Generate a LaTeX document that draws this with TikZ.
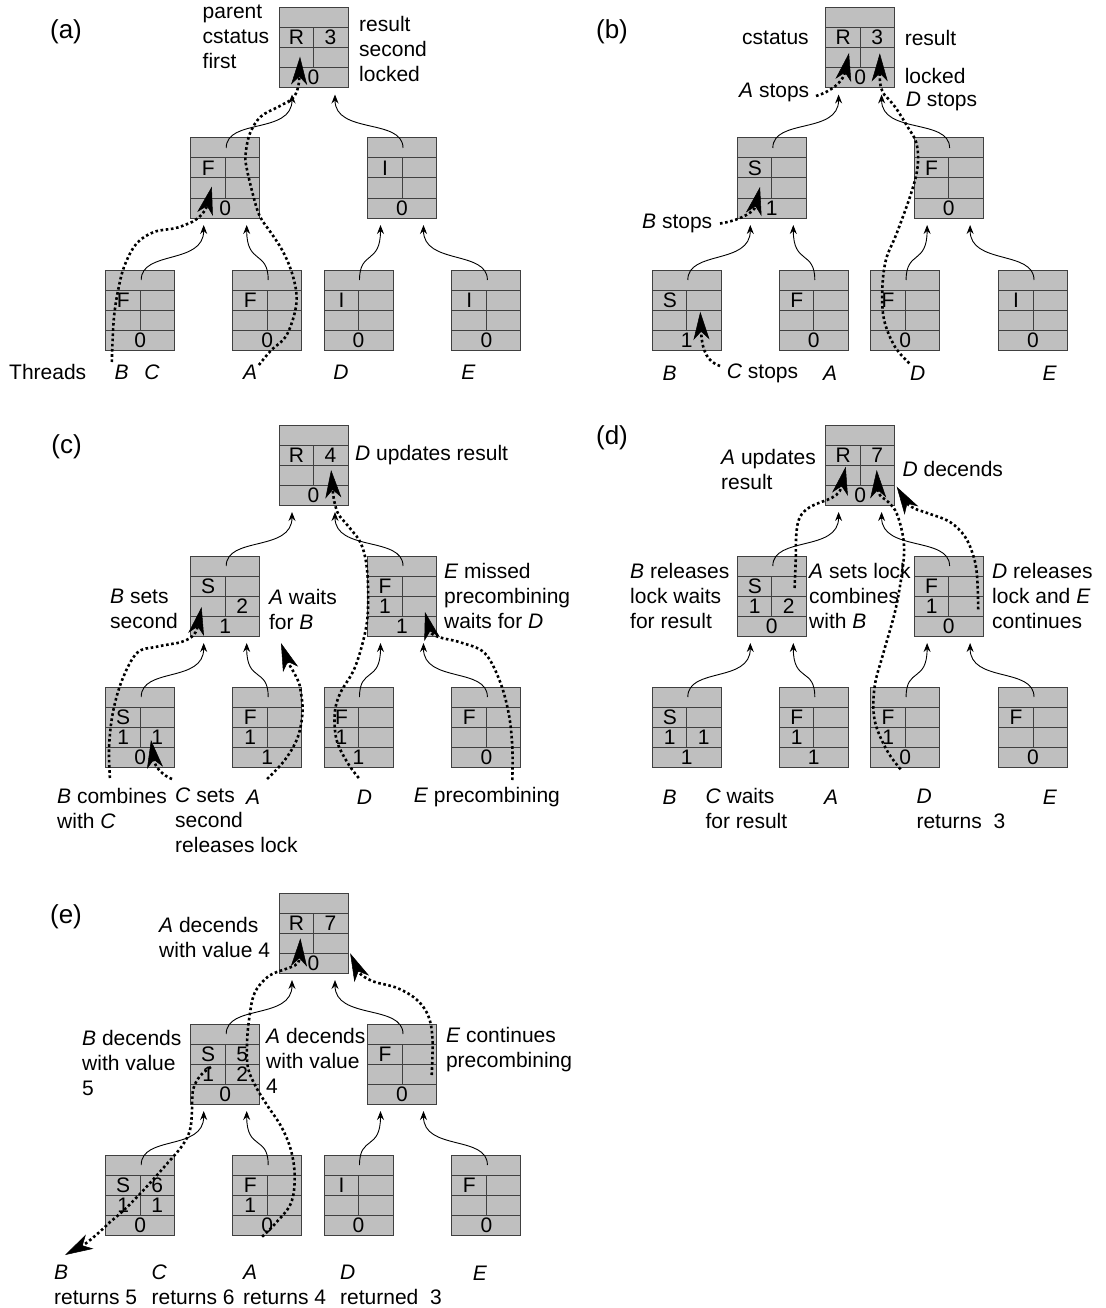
\documentclass[tikz,border=0pt]{standalone}
\usepackage{fontspec}
\setmainfont{Liberation Sans}
\usetikzlibrary{arrows.meta,calc}

\tikzset{
  cbx/.style={draw=black!75, fill=black!25, line width=1pt, minimum width=69pt, minimum height=80pt, inner sep=0pt, outer sep=0pt},
  cl/.style={draw=black!75, line width=1pt},
  ct/.style={inner sep=0pt, font=\fontsize{21}{24}\selectfont},
  lab/.style={inner sep=0pt, align=left, anchor=west, font=\fontsize{21}{25}\selectfont},
  ctr/.style={inner sep=0pt, font=\fontsize{21}{25}\selectfont},
  plab/.style={inner sep=0pt, font=\fontsize{26}{30}\selectfont},
  conn/.style={line width=0.9pt, -{Stealth[length=9pt,width=7pt,inset=3pt]}},
  thr/.style={line width=2.6pt, dash pattern=on 2.6pt off 2.6pt, -{Stealth[length=28pt,width=16pt,inset=8pt,line width=0.5pt]}},
}

% box: name, x, y, row2-left, row2-right, row3-left, row3-right, row4
\newcommand{\cbox}[8]{%
  \node[cbx] (#1) at (#2,#3) {};
  \draw[cl] ($(#1.north west)+(0,20)$) -- ($(#1.north east)+(0,20)$)
            (#1.west) -- (#1.east)
            ($(#1.south west)+(0,-20)$) -- ($(#1.south east)+(0,-20)$)
            ($(#1.north)+(0,20)$) -- ($(#1.south)+(0,-20)$);
  \node[ct] (#1a) at ($(#1.center)+(-17,-10)$) {#4};
  \node[ct] (#1b) at ($(#1.center)+(17,-10)$) {#5};
  \node[ct] (#1c) at ($(#1.center)+(-17,10)$) {#6};
  \node[ct] (#1d) at ($(#1.center)+(17,10)$) {#7};
  \node[ct] (#1e) at ($(#1.center)+(0,30)$) {#8};
}
\newcommand{\conn}[3]{\draw[conn] ($(#1.north)+(1,10)$) .. controls +(0,-30) and +(0,40) .. ($(#2.south)+(#3,7)$);}
\newcommand{\treeconn}[1]{%
  \conn{#1M1}{#1R}{-21.5}\conn{#1M2}{#1R}{21.5}%
  \conn{#1L1}{#1M1}{-21.5}\conn{#1L2}{#1M1}{21.5}%
  \conn{#1L3}{#1M2}{-21.5}\conn{#1L4}{#1M2}{21.5}}

\begin{document}
\begin{tikzpicture}[x=1pt,y=-1pt]
\useasboundingbox (0,0) rectangle (1105,1308);

% ---------------- boxes
\cbox{aR}{313.5}{47.5}{R}{3}{}{}{0}
\cbox{aM1}{225.2}{178}{F}{}{}{}{0}
\cbox{aM2}{402}{178}{I}{}{}{}{0}
\cbox{aL1}{140.2}{310}{F}{}{}{}{0}
\cbox{aL2}{267.2}{310}{F}{}{}{}{0}
\cbox{aL3}{358.5}{310}{I}{}{}{}{0}
\cbox{aL4}{486.4}{310}{I}{}{}{}{0}

\cbox{bR}{860.1}{47.5}{R}{3}{}{}{0}
\cbox{bM1}{771.8}{178}{S}{}{}{}{1}
\cbox{bM2}{948.6}{178}{F}{}{}{}{0}
\cbox{bL1}{686.8}{310}{S}{}{}{}{1}
\cbox{bL2}{813.8}{310}{F}{}{}{}{0}
\cbox{bL3}{905.1}{310}{F}{}{}{}{0}
\cbox{bL4}{1033}{310}{I}{}{}{}{0}

\cbox{cR}{313.5}{465}{R}{4}{}{}{0}
\cbox{cM1}{225.2}{596}{S}{}{}{2}{1}
\cbox{cM2}{402}{596}{F}{}{1}{}{1}
\cbox{cL1}{140.2}{727}{S}{}{1}{1}{0}
\cbox{cL2}{267.2}{727}{F}{}{1}{}{1}
\cbox{cL3}{358.5}{727}{F}{}{1}{}{1}
\cbox{cL4}{486.4}{727}{F}{}{}{}{0}

\cbox{dR}{860.1}{465}{R}{7}{}{}{0}
\cbox{dM1}{771.8}{596}{S}{}{1}{2}{0}
\cbox{dM2}{948.6}{596}{F}{}{1}{}{0}
\cbox{dL1}{686.8}{727}{S}{}{1}{1}{1}
\cbox{dL2}{813.8}{727}{F}{}{1}{}{1}
\cbox{dL3}{905.1}{727}{F}{}{1}{}{0}
\cbox{dL4}{1033}{727}{F}{}{}{}{0}

\cbox{eR}{313.5}{933}{R}{7}{}{}{0}
\cbox{eM1}{225.2}{1064}{S}{5}{1}{2}{0}
\cbox{eM2}{402}{1064}{F}{}{}{}{0}
\cbox{eL1}{140.2}{1195}{S}{6}{1}{1}{0}
\cbox{eL2}{267.2}{1195}{F}{}{1}{}{0}
\cbox{eL3}{358.5}{1195}{I}{}{}{}{0}
\cbox{eL4}{486.4}{1195}{F}{}{}{}{0}

% ---------------- tree connectors
\treeconn{a}\treeconn{b}\treeconn{c}\treeconn{d}\treeconn{e}

% ---------------- thread paths
% (a)
\draw[thr] plot[smooth,tension=0.6] coordinates {(111.8,362) (114,317) (119.6,283) (126,262) (137,243) (154,232) (176,228) (192,222)} .. controls (200,218) and (206,210) .. (211.8,186.7);
\draw[thr] plot[smooth,tension=0.6] coordinates {(258.9,365) (271.4,350) (285.7,336.7) (294.6,313.3) (296.4,293.3) (291,270) (282.1,250) (271.4,233.3) (260,216.7) (253.5,196.7) (246.4,166.7) (245.7,153.3) (250,133.3) (260.7,116.7) (278.6,106.7) (291,100)} .. controls (296,96) and (299,88) .. (300,56.7);
% (b)
\draw[thr] (816,96) .. controls (830,92) and (843,82) .. (849,53);
\draw[thr] plot[smooth,tension=0.6] coordinates {(909.3,363.3) (894.9,346.7) (884.1,320) (882.3,290) (885.9,260) (896.7,233.3) (911.1,193.3) (917.6,166.7) (916.5,143.3) (907.5,126.7) (894.9,106.7) (884.5,95)} .. controls (880.5,89) and (879.7,84) .. (879.8,53.3);
\draw[thr] (720,223.5) .. controls (737,221) and (754,213) .. (760,187);
\draw[thr] (720,366) .. controls (708,362) and (702,352) .. (700.3,311.7);
% (c)
\draw[thr] plot[smooth,tension=0.6] coordinates {(358.8,778) (347.7,763) (336.6,740) (334.8,713) (340.3,693) (355.1,667) (366.2,627) (368.1,593) (366.2,563) (360.7,543) (351.4,530) (340.3,517)} .. controls (336,512) and (333.5,500) .. (331.1,470);
\draw[thr] plot[smooth,tension=0.6] coordinates {(267.1,779) (284.8,760) (297.8,737) (302.6,710) (299.6,685)} .. controls (297,676) and (289,665) .. (281,643);
\draw[thr] plot[smooth,tension=0.6] coordinates {(109.9,778) (109.1,747) (112.8,713) (122.1,680) (136.9,653) (155.4,647) (177.6,643)} .. controls (190,640) and (196,635) .. (201.6,607);
\draw[thr] (172,779) .. controls (164,776) and (155,768) .. (151,740);
\draw[thr] plot[smooth,tension=0.6] coordinates {(512.3,780) (512.3,747) (508.6,713) (499.4,680) (484.6,653) (462.4,643) (446,639)} .. controls (438,637) and (431,635) .. (425,612);
% (d)
\draw[thr] plot[smooth,tension=0.6] coordinates {(794.6,588) (795.7,560) (796.4,533) (800,517) (810,507) (827,500)} .. controls (834,497) and (840,494) .. (845.7,466.7);
\draw[thr] plot[smooth,tension=0.6] coordinates {(900.6,769.3) (886.7,750) (874.6,720) (874.6,686.7) (883.3,653.3) (895.4,610) (902.4,570) (904.1,546.7) (901,527) (895,510) (886,500)} .. controls (881,497) and (878,494) .. (876.7,470);
\draw[thr] plot[smooth,tension=0.6] coordinates {(978.2,609.3) (977.1,576.7) (973.6,556.7) (965,536.7) (950,522) (930,514) (918,510)} .. controls (914,508.5) and (908,505) .. (896.7,486.7);
% (e)
\draw[thr] plot[smooth,tension=0.6] coordinates {(262.1,1236.7) (275.5,1223.3) (290.9,1203.3) (294.7,1176.7) (290.9,1150) (281.3,1126.7) (267,1105) (256,1087) (248,1068) (247,1045) (249,1020) (254.5,993.3) (267.9,976.7) (283,970)} .. controls (293,966) and (299,966) .. (300.4,938.3);
\draw[thr] plot[smooth,tension=0.6] coordinates {(211,1067) (200,1076) (193,1090) (192,1110) (190,1130) (182,1146) (165,1166) (150,1183) (137,1197) (123,1211) (110,1222)} .. controls (104,1228) and (89,1242) .. (65,1255);
\draw[thr] plot[smooth,tension=0.6] coordinates {(431.7,1075) (432.5,1040) (428.6,1016.7) (417.1,1000) (398,988.3) (378,983)} .. controls (368,980) and (360,975) .. (350.2,953.3);

% ---------------- texts (a)
\node[plab] (pa) at (66,31.5) {(a)};
\node[lab] (ta1) at (202.5,37) {parent\\cstatus\\first};
\node[lab] (ta2) at (359,49) {result\\second\\locked};
\node[lab] (ta3) at (9,372) {Threads};
\node[ctr] (taB) at (121.7,372) {\textit{B}};
\node[ctr] (taC) at (152,372) {\textit{C}};
\node[ctr] (taA) at (250,372) {\textit{A}};
\node[ctr] (taD) at (341,372) {\textit{D}};
\node[ctr] (taE) at (468.5,372) {\textit{E}};
% (b)
\node[plab] (pb) at (612,31.5) {(b)};
\node[lab] (tb1) at (742,38) {cstatus};
\node[lab] (tb2) at (904.6,38) {result};
\node[lab] (tb3) at (904.6,76) {locked};
\node[lab] (tb4) at (739,92) {\textit{A} stops};
\node[lab] (tb5) at (905.7,101) {\textit{D} stops};
\node[lab] (tb6) at (642,223) {\textit{B} stops};
\node[lab] (tb7) at (726.6,373) {\textit{C} stops};
\node[ctr] (tbB) at (669.7,373) {\textit{B}};
\node[ctr] (tbA) at (830,373) {\textit{A}};
\node[ctr] (tbD) at (917.6,373) {\textit{D}};
\node[ctr] (tbE) at (1049.8,373) {\textit{E}};
% (c)
\node[plab] (pc) at (66.5,447) {(c)};
\node[lab] (tc1) at (355,455) {\textit{D} updates result};
\node[lab] (tc2) at (110,609) {\textit{B} sets\\second};
\node[lab] (tc3) at (268.9,609) {\textit{A} waits\\for \textit{B}};
\node[lab] (tc4) at (443.9,596) {\textit{E} missed\\precombining\\waits for \textit{D}};
\node[lab] (tc5) at (57,808.5) {\textit{B} combines\\with \textit{C}};
\node[lab] (tc6) at (175,820.5) {\textit{C} sets\\second\\releases lock};
\node[ctr] (tcA) at (253,797) {\textit{A}};
\node[ctr] (tcD) at (364.4,797) {\textit{D}};
\node[lab] (tc7) at (413.6,797) {\textit{E} precombining};
% (d)
\node[plab] (pd) at (612,438) {(d)};
\node[lab] (td1) at (721,469) {\textit{A} updates\\result};
\node[lab] (td2) at (902.4,469) {\textit{D} decends};
\node[lab] (td3) at (630,596) {\textit{B} releases\\lock waits\\for result};
\node[lab] (td4) at (809,596) {\textit{A} sets lock\\combines\\with \textit{B}};
\node[lab] (td5) at (992,596) {\textit{D} releases\\lock and \textit{E}\\continues};
\node[ctr] (tdB) at (669.5,797) {\textit{B}};
\node[lab] (td6) at (705.3,808.5) {\textit{C} waits\\for result};
\node[ctr] (tdA) at (831,797) {\textit{A}};
\node[lab] (td7) at (916.3,808.5) {\textit{D}\\returns\ \ 3};
\node[ctr] (tdE) at (1050,797) {\textit{E}};
% (e)
\node[plab] (pe) at (66,917) {(e)};
\node[lab] (te1) at (159,937.5) {\textit{A} decends\\with value 4};
\node[lab] (te2) at (82,1063) {\textit{B} decends\\with value\\5};
\node[lab] (te3) at (266,1061) {\textit{A} decends\\with value\\4};
\node[lab] (te4) at (445.8,1049.5) {\textit{E} continues\\precombining};
\node[lab] (te5) at (54,1285) {\textit{B}\\returns 5};
\node[lab] (te6) at (151.5,1285) {\textit{C}\\returns 6};
\node[lab] (te7) at (243,1285) {\textit{A}\\returns 4};
\node[lab] (te8) at (340,1285) {\textit{D}\\returned\ \ 3};
\node[ctr] (teE) at (480,1273) {\textit{E}};
\end{tikzpicture}
\end{document}
